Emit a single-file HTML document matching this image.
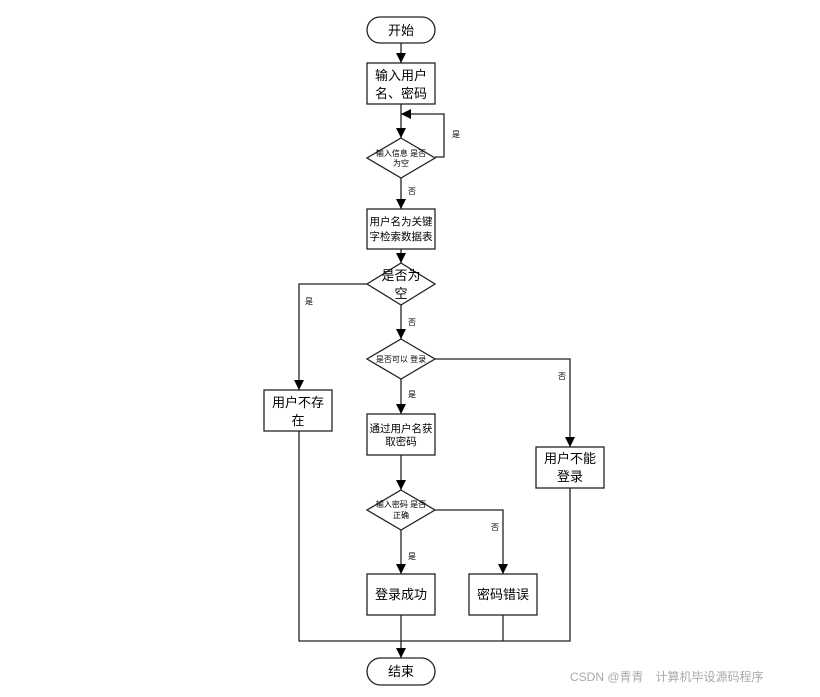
<!DOCTYPE html>
<html><head><meta charset="utf-8"><style>
body{margin:0;background:#fff;}
svg text{font-family:"Liberation Sans","Noto Sans CJK SC",sans-serif;fill:#000;}
</style></head><body>
<svg width="820" height="692" viewBox="0 0 820 692" xmlns="http://www.w3.org/2000/svg">
<defs><marker id="a" viewBox="0 0 10 10" refX="10" refY="5" markerWidth="8" markerHeight="8" markerUnits="userSpaceOnUse" orient="auto"><path d="M0,0L10,5L0,10z" fill="#000"/></marker>
<marker id="b" viewBox="0 0 10 10" refX="10" refY="5" markerWidth="10" markerHeight="10" markerUnits="userSpaceOnUse" orient="auto"><path d="M0,0L10,5L0,10z" fill="#000"/></marker></defs>
<g stroke="#222" stroke-width="1.3" fill="#fff">
<rect x="367" y="17" width="68" height="26" rx="13"/>
<rect x="367" y="63" width="68" height="41"/>
<polygon points="401,138 435,158 401,178 367,158"/>
<rect x="367" y="209" width="68" height="40"/>
<polygon points="401,263 435,284 401,305 367,284"/>
<polygon points="401,339 435,359 401,379 367,359"/>
<rect x="264" y="390" width="68" height="41"/>
<rect x="367" y="414" width="68" height="41"/>
<rect x="536" y="447" width="68" height="41"/>
<polygon points="401,490 435,510 401,530 367,510"/>
<rect x="367" y="574" width="68" height="41"/>
<rect x="469" y="574" width="68" height="41"/>
<rect x="367" y="658" width="68" height="27" rx="13.5"/>
</g>
<g stroke="#222" stroke-width="1.3" fill="none">
<line x1="401" y1="43" x2="401" y2="63" marker-end="url(#b)"/>
<line x1="401" y1="104" x2="401" y2="138" marker-end="url(#b)"/>
<polyline points="435,157 444,157 444,114 401,114" marker-end="url(#b)"/>
<line x1="401" y1="178" x2="401" y2="209" marker-end="url(#b)"/>
<line x1="401" y1="249" x2="401" y2="263" marker-end="url(#b)"/>
<polyline points="367,284 299,284 299,390" marker-end="url(#b)"/>
<line x1="401" y1="305" x2="401" y2="339" marker-end="url(#b)"/>
<polyline points="435,359 570,359 570,447" marker-end="url(#b)"/>
<line x1="401" y1="379" x2="401" y2="414" marker-end="url(#b)"/>
<line x1="401" y1="455" x2="401" y2="490" marker-end="url(#b)"/>
<polyline points="435,510 503,510 503,574" marker-end="url(#b)"/>
<line x1="401" y1="530" x2="401" y2="574" marker-end="url(#b)"/>
<polyline points="299,431 299,641 570,641 570,488"/>
<line x1="503" y1="615" x2="503" y2="641"/>
<line x1="401" y1="615" x2="401" y2="658" marker-end="url(#b)"/>
</g>
<g font-size="13" text-anchor="middle">
<text x="401" y="35">开始</text>
<text x="401" y="80">输入用户</text><text x="401" y="98">名、密码</text>
<text x="401" y="225" font-size="10.5">用户名为关键</text><text x="401" y="240" font-size="10.5">字检索数据表</text>
<text x="401" y="280">是否为</text><text x="401" y="298">空</text>
<text x="298" y="407">用户不存</text><text x="298" y="425">在</text>
<text x="401" y="432" font-size="10.5">通过用户名获</text><text x="401" y="445" font-size="10.5">取密码</text>
<text x="570" y="463">用户不能</text><text x="570" y="481">登录</text>
<text x="401" y="599">登录成功</text>
<text x="503" y="599">密码错误</text>
<text x="401" y="676">结束</text>
</g>
<g font-size="8" text-anchor="middle">
<text x="401" y="156">输入信息 是否</text><text x="401" y="166">为空</text>
<text x="401" y="362">是否可以 登录</text>
<text x="401" y="507">输入密码 是否</text><text x="401" y="518">正确</text>
<text x="456" y="137">是</text>
<text x="412" y="194">否</text>
<text x="309" y="304">是</text>
<text x="412" y="325">否</text>
<text x="562" y="379">否</text>
<text x="412" y="397">是</text>
<text x="495" y="530">否</text>
<text x="412" y="559">是</text>
</g>
<text x="570" y="681" font-size="12" style="fill:#aaa">CSDN @青青　计算机毕设源码程序</text>
</svg>
</body></html>
